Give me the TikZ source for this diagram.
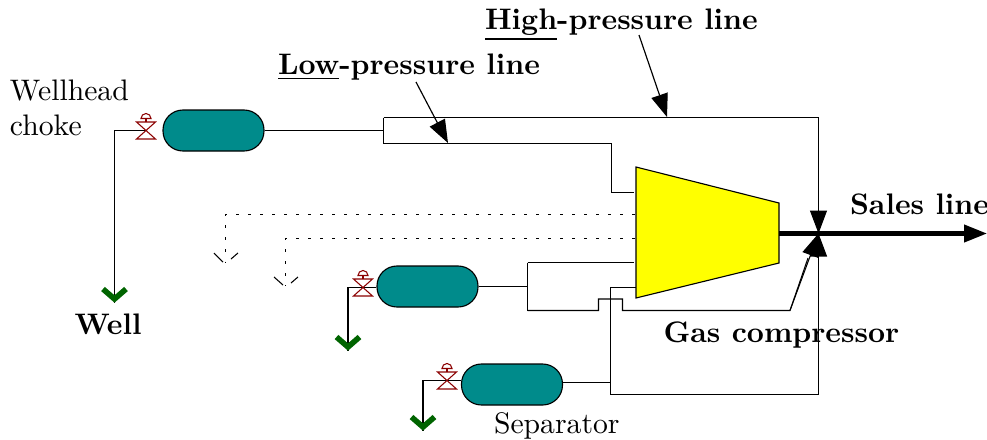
\documentclass[tikz,border=0pt]{standalone}
\usetikzlibrary{arrows.meta}
\definecolor{vesselteal}{RGB}{0,139,139}
\definecolor{valvered}{RGB}{139,0,0}
\definecolor{wellgreen}{RGB}{0,100,0}
\definecolor{compyellow}{RGB}{255,255,0}
\def\unitpx{0.3413pt}
\tikzset{
  x=\unitpx, y=-\unitpx,
  pipe/.style={line width=0.36pt, black},
  vessel/.style={draw=black, fill=vesselteal, line width=0.38pt, rectangle, rounded corners=6.8pt, minimum width=101*\unitpx, minimum height=41*\unitpx, inner sep=0pt},
  label/.style={anchor=base west, inner sep=0pt, outer sep=0pt, font=\fontsize{10.13pt}{12pt}\selectfont},
  bighead/.style={-{Triangle[length=23*\unitpx,width=17*\unitpx]}},
  dotline/.style={line width=0.3pt, dash pattern=on 1pt off 3.1pt},
  openhead/.style={line width=0.36pt},
  wellmark/.style={draw=wellgreen, line width=1.9pt},
  valvesym/.pic={
    \draw[valvered, line width=0.36pt] (-9.5,-8.5) -- (9.5,-8.5) -- (-9.5,8.5) -- (9.5,8.5) -- cycle;
    \draw[valvered, line width=0.36pt] (0,-8.5) -- (0,-12);
    \draw[valvered, line width=0.36pt] (-5,-12) arc (180:360:5) -- cycle;
  },
  chevron/.pic={
    \draw[wellmark] (-11.5,-14) -- (0,-4) -- (11.5,-14);
  }
}
\begin{document}
\begin{tikzpicture}
\useasboundingbox (0,0) rectangle (987,439);
% vessels
\node[vessel] (sepa) at (213.5,130.5) {};
\node[vessel] (sepb) at (427.5,286.5) {};
\node[vessel] (sepc) at (512,384.5) {};
% junctions
\coordinate (va) at (146,130.5);
\coordinate (vb) at (363,287.5);
\coordinate (vc) at (447,380.5);
\coordinate (wa) at (114.5,303);
\coordinate (wb) at (348,351);
\coordinate (wc) at (423,431);
\coordinate (mix) at (818.5,233.5);
\coordinate (compin) at (635,214.5);
\coordinate (compinb) at (635,238.5);
\coordinate (out) at (779,233.5);
\coordinate (sales) at (987,233.5);
% well lines
\draw[pipe] (va) -| (wa);
\draw[pipe] (sepb.west |- vb) -- (vb) -| (wb);
\draw[pipe] (sepc.west |- vc) -- (vc) -| (wc);
% first separator
\draw[pipe] (sepa.east) -- (383.5,130.5);
\draw[pipe] (383.5,117.5) -- (383.5,143.5);
\draw[pipe] (383.5,117.5) -- (818.5,117.5) -- (818.5,215);
\draw[pipe] (383.5,143.5) -- (611.5,143.5) -- (611.5,192.5) -- (634,192.5);
% second separator
\draw[pipe] (sepb.east) -- (527.5,286.5);
\draw[pipe] (527.5,262.5) -- (527.5,311);
\draw[pipe] (527.5,262.5) -- (634,262.5);
\draw[pipe] (527.5,310.5) -- (598.5,310.5) -- (598.5,299) -- (622.5,299) -- (622.5,310.5) -- (790,310.5) -- (808,258);
% third separator
\draw[pipe] (sepc.east |- 0,382.5) -- (610.5,382.5);
\draw[pipe] (636,287.5) -- (610.5,287.5) -- (610.5,394.5) -- (818.5,394.5) -- (818.5,256);
% dotted lines
\draw[dotline] (compin) -- (225.5,214.5) -- (225.5,262);
\draw[dotline] (compinb) -- (285.5,238.5) -- (285.5,286);
\draw[openhead] (214,253) -- (223,262);
\draw[openhead] (231,259) -- (238,253);
\draw[openhead] (274,277) -- (283,285);
\draw[openhead] (291,283) -- (298,277);
% compressor
\draw[fill=compyellow, line width=0.38pt] (636,167) -- (779,203) -- (779,263) -- (636,298) -- cycle;
% arrowheads
\draw[pipe, bighead] (818.5,200) -- (mix);
\draw[pipe, bighead] (818.5,270) -- (mix);
\draw[pipe, bighead] (790,310.5) -- (mix);
\draw[line width=1.4pt, -{Triangle[length=23*\unitpx,width=17*\unitpx]}] (out) -- (sales);
\draw[line width=0.4pt, bighead] (639,35) -- (667,117);
\draw[line width=0.4pt, bighead] (416,82) -- (448,143);
% valves and wells
\pic at (va) {valvesym};
\pic at (vb) {valvesym};
\pic at (vc) {valvesym};
\pic at (wa) {chevron};
\pic at (wb) {chevron};
\pic at (wc) {chevron};
% labels
\node[label] (t1) at (10,100) {Wellhead};
\node[label] (t2) at (10,135) {choke};
\node[label] (t3) at (74.5,334) {\bfseries Well};
\node[label] (t4) at (278,74) {\bfseries\underline{Low}-pressure line};
\node[label] (t5) at (485,29) {\bfseries\underline{High}-pressure line};
\node[label] (t6) at (850,214) {\bfseries Sales line};
\node[label] (t7) at (663.5,342) {\bfseries Gas compressor};
\node[label] (t8) at (494,433) {Separator};
\end{tikzpicture}
\end{document}
